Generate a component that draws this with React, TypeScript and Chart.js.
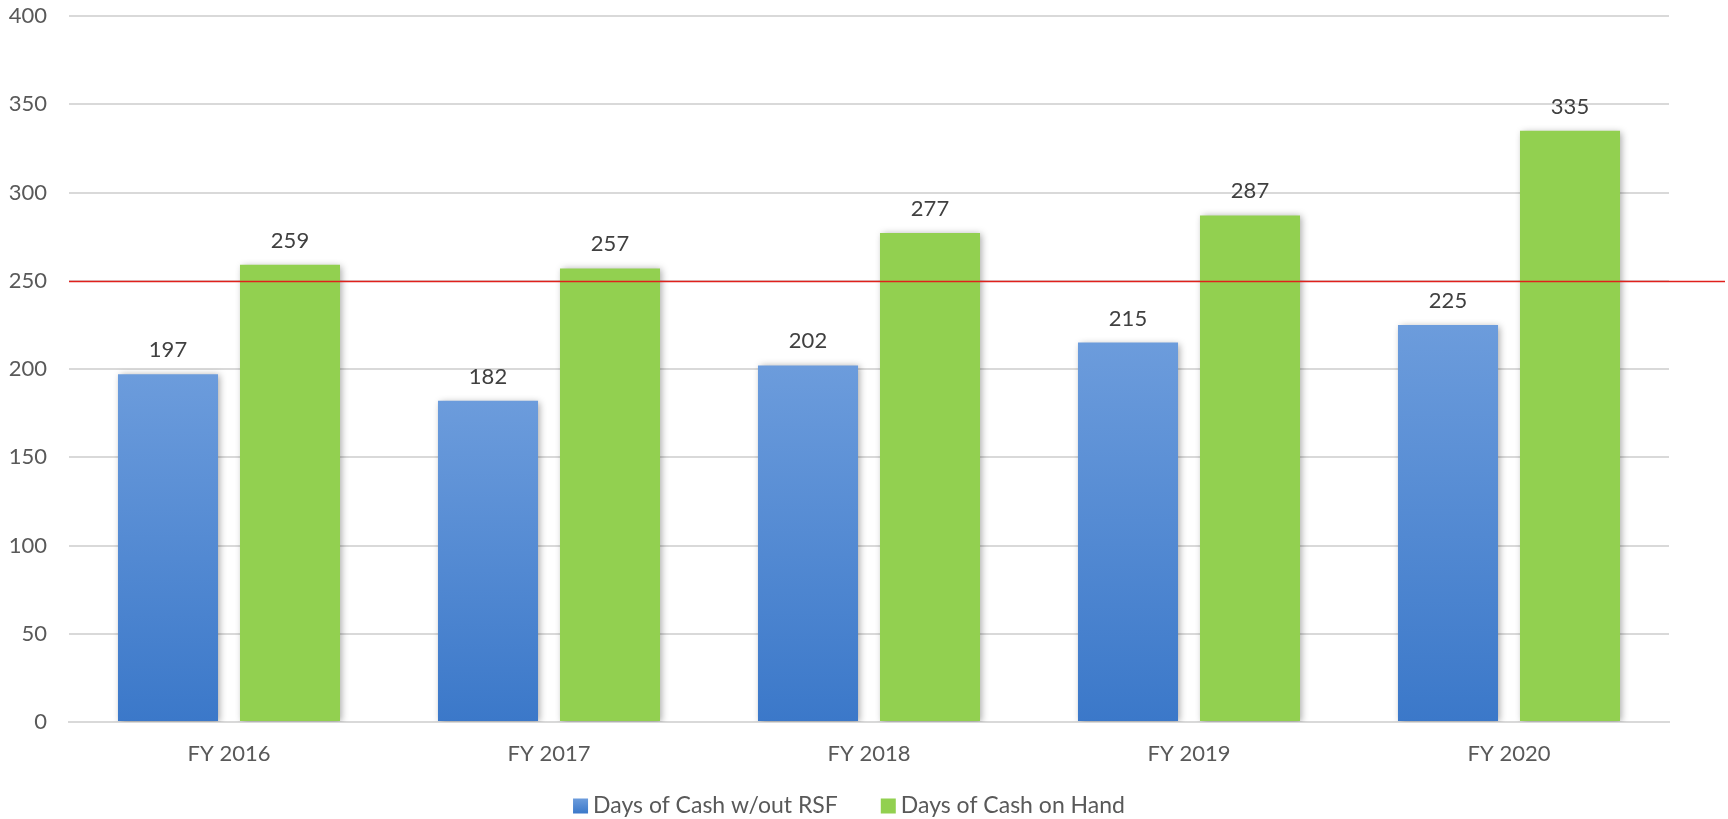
import React, { useEffect, useRef } from "react";
import { Chart, registerables } from "chart.js";

Chart.register(...registerables);

const categories = ["FY 2016", "FY 2017", "FY 2018", "FY 2019", "FY 2020"];
const cashWithoutRSF = [197, 182, 202, 215, 225];
const cashOnHand = [259, 257, 277, 287, 335];
const seriesNames = ["Days of Cash w/out RSF", "Days of Cash on Hand"];
const targetLine = 250;
const yMin = 0;
const yMax = 400;
const yStep = 50;

const FONT = "Lato, 'Open Sans', sans-serif";
const TEXT = "#595959";
const GREEN = "#92D050";

function blueGradient(c: CanvasRenderingContext2D, top: number, bottom: number) {
  const g = c.createLinearGradient(0, top, 0, bottom);
  g.addColorStop(0, "#6C9CDC");
  g.addColorStop(1, "#3B78C9");
  return g;
}

function blueFill(ctx: any) {
  const chart = ctx.chart;
  if (ctx.type !== "data" || !chart.chartArea || !chart.scales || !chart.scales.y) {
    return "#5A90D8";
  }
  const y = chart.scales.y;
  const top = y.getPixelForValue(ctx.parsed ? ctx.parsed.y : ctx.raw);
  const bottom = y.getPixelForValue(0);
  if (!isFinite(top) || !isFinite(bottom) || top === bottom) return "#5A90D8";
  return blueGradient(chart.ctx, top, bottom);
}

const shadowPlugin = {
  id: "barShadow",
  beforeDatasetsDraw(chart: any) {
    const c = chart.ctx;
    c.save();
    c.shadowColor = "rgba(0,0,0,0.35)";
    c.shadowBlur = 7;
    c.shadowOffsetX = 2;
    c.shadowOffsetY = 1;
  },
  afterDatasetsDraw(chart: any) {
    chart.ctx.restore();
  },
};

const overlayPlugin = {
  id: "overlay",
  afterDraw(chart: any) {
    const c = chart.ctx;
    const area = chart.chartArea;
    const y = chart.scales.y;
    // target line
    const ly = Math.round(y.getPixelForValue(targetLine)) + 0.5;
    c.save();
    c.strokeStyle = "#E0201C";
    c.lineWidth = 1.3;
    c.beginPath();
    c.moveTo(area.left, ly);
    c.lineTo(chart.width - 3, ly);
    c.stroke();
    // data labels
    c.fillStyle = "#404040";
    c.font = `22px ${FONT}`;
    c.textAlign = "center";
    c.textBaseline = "alphabetic";
    chart.data.datasets.forEach((ds: any, i: number) => {
      const meta = chart.getDatasetMeta(i);
      meta.data.forEach((el: any, j: number) => {
        c.fillText(String(ds.data[j]), el.x, el.y - 17);
      });
    });
    // legend
    c.font = `23px ${FONT}`;
    c.textAlign = "left";
    c.textBaseline = "middle";
    const box = 15;
    const boxGap = 5;
    const itemGap = 43;
    const widths = seriesNames.map((n) => c.measureText(n).width);
    const total = widths.reduce((a, w) => a + box + boxGap + w, 0) + itemGap * (seriesNames.length - 1);
    const cy = 806;
    let x = chart.width / 2 - 15 - total / 2;
    seriesNames.forEach((n, i) => {
      c.fillStyle = i === 0 ? blueGradient(c, cy - box / 2, cy + box / 2) : GREEN;
      c.fillRect(x, cy - box / 2, box, box);
      x += box + boxGap;
      c.fillStyle = TEXT;
      c.fillText(n, x, cy);
      x += widths[i] + itemGap;
    });
    c.restore();
  },
};

export default function App() {
  const ref = useRef<HTMLCanvasElement | null>(null);
  useEffect(() => {
    if (!ref.current) return;
    const chart = new Chart(ref.current, {
      type: "bar",
      data: {
        labels: categories,
        datasets: [
          {
            label: seriesNames[0],
            data: cashWithoutRSF,
            backgroundColor: blueFill as any,
            borderWidth: 0,
          },
          {
            label: seriesNames[1],
            data: cashOnHand,
            backgroundColor: GREEN,
            borderWidth: 0,
          },
        ],
      },
      options: {
        animation: false,
        responsive: true,
        maintainAspectRatio: false,
        datasets: {
          bar: { categoryPercentage: 0.7625, barPercentage: 0.82 },
        },
        layout: { padding: { left: 0, right: 59, top: 16, bottom: 37 } },
        scales: {
          x: {
            grid: { display: false, drawTicks: false },
            border: { display: true, color: "#D9D9D9", width: 2 },
            ticks: { color: TEXT, font: { family: FONT, size: 22 }, padding: 19 },
            afterFit: (s: any) => {
              s.height = 60;
            },
          },
          y: {
            min: yMin,
            max: yMax,
            ticks: { stepSize: yStep, color: TEXT, font: { family: FONT, size: 22 }, padding: 22 },
            grid: { color: "#D9D9D9", lineWidth: 2, drawTicks: false },
            border: { display: false },
            afterFit: (s: any) => {
              s.width = 69;
              s.paddingTop = 0;
              s.paddingBottom = 0;
            },
          },
        },
        plugins: {
          legend: { display: false },
          tooltip: { enabled: false },
        },
      },
      plugins: [shadowPlugin, overlayPlugin],
    });
    return () => chart.destroy();
  }, []);
  return (
    <div style={{ position: "fixed", left: 0, top: 0, width: 1728, height: 819, background: "#fff" }}>
      <canvas ref={ref} />
    </div>
  );
}
